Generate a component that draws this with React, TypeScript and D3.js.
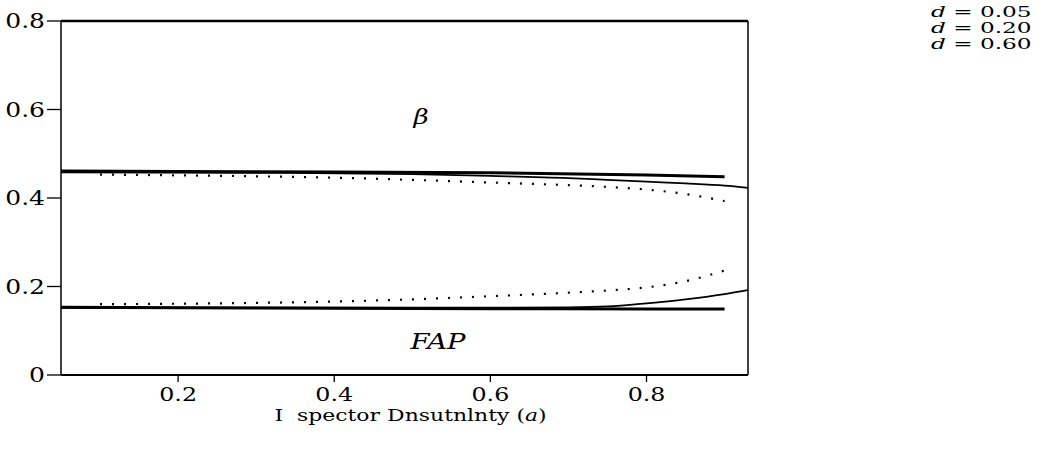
import React from 'react';
import * as d3 from 'd3';

const W = 1050;
const H = 451;

// error-probability curves vs. inspector uncertainty (alpha)
// d = 0.05 : heavy solid, stops at 0.9
const alphaA = [0.05, 0.2, 0.4, 0.6, 0.8, 0.9];
const betaA = [0.461, 0.46, 0.459, 0.457, 0.452, 0.448];
const fapA = [0.153, 0.152, 0.151, 0.15, 0.149, 0.149];

// d = 0.20 : solid, runs to the frame
const alphaB = [0.05, 0.3, 0.5, 0.6, 0.7, 0.75, 0.8, 0.85, 0.9, 0.93];
const betaB = [0.458, 0.457, 0.454, 0.45, 0.445, 0.441, 0.437, 0.433, 0.428, 0.423];
const fapB = [0.152, 0.152, 0.152, 0.152, 0.153, 0.155, 0.162, 0.171, 0.183, 0.192];

// d = 0.60 : dotted
const alphaC = [0.1, 0.3, 0.4, 0.5, 0.6, 0.7, 0.75, 0.8, 0.85, 0.9];
const betaC = [0.453, 0.449, 0.446, 0.441, 0.435, 0.429, 0.425, 0.419, 0.409, 0.393];
const fapC = [0.16, 0.163, 0.166, 0.171, 0.178, 0.186, 0.191, 0.198, 0.212, 0.236];

const xTicks = [0.2, 0.4, 0.6, 0.8];
const yTicks = [0, 0.2, 0.4, 0.6, 0.8];
const legendLabels = ['0.05', '0.20', '0.60'];

const FONT = '"DejaVu Serif", serif';

const x = d3.scaleLinear().domain([0.05, 0.93]).range([61, 748]);
const y = d3.scaleLinear().domain([0, 0.8]).range([375, 21]);

const line = d3
  .line<[number, number]>()
  .curve(d3.curveMonotoneX)
  .x(d => x(d[0]))
  .y(d => y(d[1]));

const zip = (a: number[], b: number[]) => a.map((v, i) => [v, b[i]] as [number, number]);

const series = [
  { xs: alphaA, ys: [betaA, fapA], width: 3, dash: undefined as string | undefined },
  { xs: alphaB, ys: [betaB, fapB], width: 1.8, dash: undefined },
  { xs: alphaC, ys: [betaC, fapC], width: 2.2, dash: '2 10' },
];

// the scan is stretched sideways, so text gets a horizontal scale
const Txt: React.FC<{ x: number; y: number; anchor?: string; size?: number; sx?: number; italic?: boolean; children: React.ReactNode }> = ({
  x: tx, y: ty, anchor = 'start', size = 18, sx = 1.25, italic = false, children,
}) => (
  <text
    transform={`translate(${tx},${ty}) scale(${sx},1)`}
    textAnchor={anchor}
    fontFamily={FONT}
    fontSize={size}
    fontStyle={italic ? 'italic' : 'normal'}
    fill="#000"
  >
    {children}
  </text>
);

export default function App() {
  const [x0, x1] = x.range();
  const [y0, y1] = y.range();
  return (
    <div style={{ position: 'fixed', left: 0, top: 0 }}>
      <svg width={W} height={H} style={{ display: 'block', background: '#fff' }}>
        {/* frame */}
        <line x1={x0} x2={x1} y1={y1} y2={y1} stroke="#000" strokeWidth={2.4} />
        <line x1={x0} x2={x1} y1={y0} y2={y0} stroke="#000" strokeWidth={2.2} />
        <line x1={x0} x2={x0} y1={y0} y2={y1} stroke="#000" strokeWidth={1.5} />
        <line x1={x1} x2={x1} y1={y0} y2={y1} stroke="#000" strokeWidth={1.5} />

        {/* y ticks */}
        {yTicks.map(t => (
          <g key={t}>
            <line x1={x0 - 14} x2={x0} y1={y(t)} y2={y(t)} stroke="#000" strokeWidth={1.3} />
            <Txt x={x0 - 16} y={y(t) + 7} anchor="end" size={20} sx={1.25}>{String(t)}</Txt>
          </g>
        ))}

        {/* x ticks */}
        {xTicks.map(t => (
          <g key={t}>
            <line x1={x(t)} x2={x(t)} y1={y0} y2={y0 + 7} stroke="#000" strokeWidth={1.3} />
            <Txt x={x(t)} y={y0 + 26} anchor="middle" size={19} sx={1.25}>{String(t)}</Txt>
          </g>
        ))}

        <Txt x={(x0 + x1) / 2 + 6} y={y0 + 46} anchor="middle" size={16.5} sx={1.33}>
          I&#160;&#160;spector Dnsutnlnty (<tspan fontStyle="italic">a</tspan>)
        </Txt>

        {/* curves */}
        {series.map((s, i) =>
          s.ys.map((ys, j) => (
            <path
              key={`${i}-${j}`}
              d={line(zip(s.xs, ys)) || ''}
              fill="none"
              stroke="#000"
              strokeWidth={s.width}
              strokeDasharray={s.dash}
            />
          ))
        )}

        <Txt x={421} y={124} anchor="middle" size={21} italic>β</Txt>
        <Txt x={438} y={349} anchor="middle" size={22} italic>FAP</Txt>

        {/* legend */}
        {legendLabels.map((l, i) => (
          <Txt key={l} x={931} y={17 + i * 16} size={14.5} sx={1.6}>
            <tspan fontStyle="italic">d</tspan> = {l}
          </Txt>
        ))}
      </svg>
    </div>
  );
}
